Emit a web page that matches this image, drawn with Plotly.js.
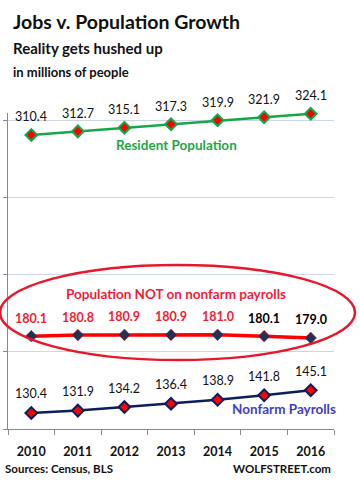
<!DOCTYPE html>
<html>
<head>
<meta charset="utf-8">
<script src="https://cdn.plot.ly/plotly-3.0.1.min.js"></script>
<style>
html,body{margin:0;padding:0;background:#fff;}
#chart{width:360px;height:486px;}
</style>
</head>
<body>
<div id="chart"></div>
<script>
const years = ["2010","2011","2012","2013","2014","2015","2016"];
const residentPopulation = [310.4, 312.7, 315.1, 317.3, 319.9, 321.9, 324.1];
const notOnPayrolls = [180.1, 180.8, 180.9, 180.9, 181.0, 180.1, 179.0];
const nonfarmPayrolls = [130.4, 131.9, 134.2, 136.4, 138.9, 141.8, 145.1];
const notLabelColors = ["#f01c34","#f01c34","#f01c34","#f01c34","#f01c34","#000000","#000000"];

const FONT = "Lato, 'Open Sans', sans-serif";
const BOLD = "Lato, 'Open Sans', sans-serif";

const traces = [
  {
    x: years, y: residentPopulation, type: 'scatter', mode: 'lines+markers',
    line: {color: '#14a84a', width: 2.5},
    marker: {symbol: 'diamond', size: 9, color: '#ff0000', line: {color: '#14a84a', width: 2}},
    cliponaxis: false, hoverinfo: 'skip'
  },
  {
    x: years, y: notOnPayrolls, type: 'scatter', mode: 'lines+markers',
    line: {color: '#ff0000', width: 3.5},
    marker: {symbol: 'diamond', size: 9, color: '#1f3358', line: {color: '#ff0000', width: 0.5}},
    cliponaxis: false, hoverinfo: 'skip'
  },
  {
    x: years, y: nonfarmPayrolls, type: 'scatter', mode: 'lines+markers',
    line: {color: '#0c1f5c', width: 2.5},
    marker: {symbol: 'diamond', size: 9, color: '#ff0000', line: {color: '#0c1f5c', width: 2}},
    cliponaxis: false, hoverinfo: 'skip'
  }
];

const annotations = [];
function addLabels(vals, colors, bold, shift) {
  vals.forEach((v, i) => {
    annotations.push({
      // category axis: position by category index
      x: years.indexOf(years[i]), y: v, xref: 'x', yref: 'y',
      text: bold ? '<b>' + v.toFixed(1) + '</b>' : v.toFixed(1),
      showarrow: false, yshift: shift, xanchor: 'center', yanchor: 'middle',
      font: {family: FONT, size: 12.5, color: colors[i]}
    });
  });
}
addLabels(residentPopulation, residentPopulation.map(() => '#111111'), false, 18);
addLabels(notOnPayrolls, notLabelColors, true, 18);
addLabels(nonfarmPayrolls, nonfarmPayrolls.map(() => '#111111'), false, 19);

// pixel helpers for paper coordinates (plot area: x 8..334, y 113..429)
const px = x => (x - 8) / 326;
const py = y => (429 - y) / 316;

function txt(text, x, y, size, color, xanchor) {
  annotations.push({
    text: '<b>' + text + '</b>', xref: 'paper', yref: 'paper', x: px(x), y: py(y),
    xanchor: xanchor || 'left', yanchor: 'middle', showarrow: false,
    font: {family: BOLD, size: size, color: color}
  });
}
txt('Jobs v. Population Growth', 11, 21, 19.5, '#111111');
txt('Reality gets hushed up', 11, 47.5, 15, '#111111');
txt('in millions of people', 11, 72, 13, '#111111');
txt('Resident Population', 176, 145, 13.5, '#1fa646', 'center');
txt('Population NOT on nonfarm payrolls', 176, 294, 13.5, '#f01c3c', 'center');
txt('Nonfarm Payrolls', 284, 409, 13.5, '#4040c4', 'center');
txt('Sources: Census, BLS', 3, 468, 11.5, '#111111');
txt('WOLFSTREET.com', 333, 468, 11.5, '#111111', 'right');

const layout = {
  width: 360, height: 486,
  margin: {l: 8, r: 26, t: 113, b: 57, pad: 0},
  paper_bgcolor: '#ffffff', plot_bgcolor: '#ffffff',
  showlegend: false,
  font: {family: FONT, color: '#111'},
  xaxis: {
    type: 'category', range: [-0.5, 6.5], tickson: 'boundaries',
    ticks: 'outside', ticklen: 5, tickcolor: '#888', tickwidth: 1,
    showline: true, linecolor: '#888', linewidth: 1,
    showgrid: false, zeroline: false, ticklabelstandoff: 11,
    tickfont: {family: BOLD, size: 12.5, color: '#111', weight: 'bold'},
    fixedrange: true
  },
  yaxis: {
    range: [120, 324.6], tick0: 120, dtick: 50,
    showticklabels: false, ticks: 'outside', ticklen: 4, tickcolor: '#888',
    showline: true, linecolor: '#888', linewidth: 1,
    showgrid: true, gridcolor: '#cbd7e6', gridwidth: 1, zeroline: false,
    fixedrange: true
  },
  annotations: annotations,
  shapes: [{
    type: 'circle', xref: 'paper', yref: 'paper',
    x0: px(0), x1: px(355), y0: py(360), y1: py(265),
    line: {color: '#e8182c', width: 2.5}, fillcolor: 'rgba(0,0,0,0)', layer: 'above'
  }]
};

Plotly.newPlot('chart', traces, layout, {displayModeBar: false, staticPlot: true});
</script>
</body>
</html>
